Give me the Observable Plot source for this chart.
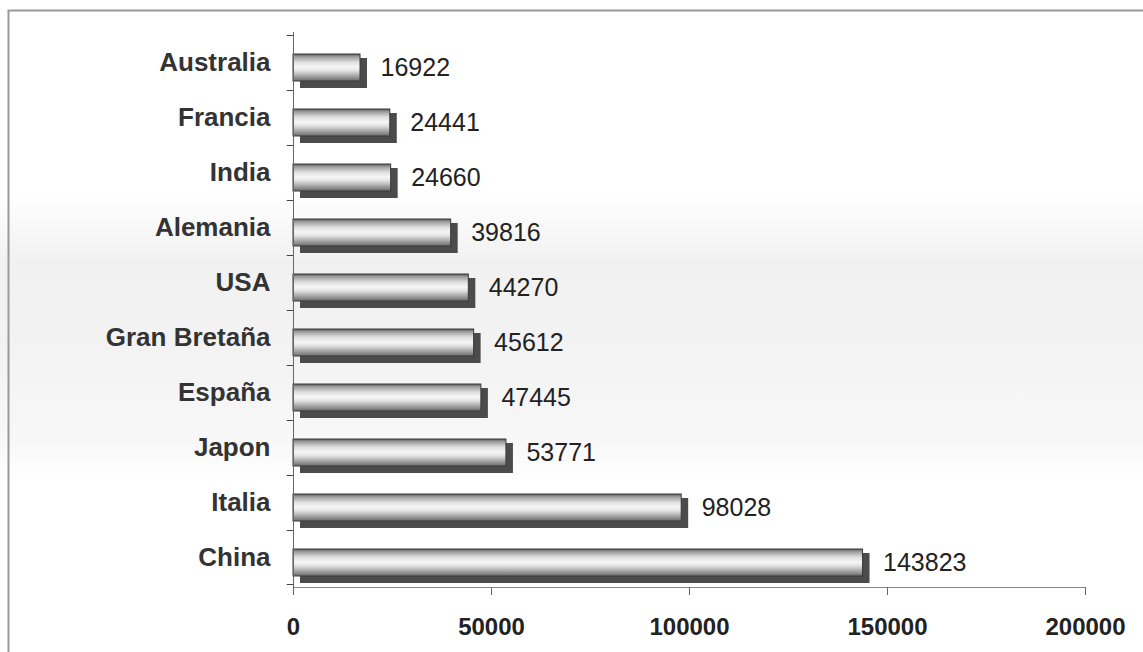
<!DOCTYPE html>
<html>
<head>
<meta charset="utf-8">
<script src="https://cdn.jsdelivr.net/npm/d3@7"></script>
<script src="https://cdn.jsdelivr.net/npm/@observablehq/plot@0.6"></script>
<style>
  html, body { margin: 0; padding: 0; background: #fff; }
  #chart { width: 1143px; height: 652px; overflow: hidden; }
</style>
</head>
<body>
<div id="chart"></div>
<script>
const countries = ["Australia", "Francia", "India", "Alemania", "USA", "Gran Bretaña", "España", "Japon", "Italia", "China"];
const values = [16922, 24441, 24660, 39816, 44270, 45612, 47445, 53771, 98028, 143823];
const xTicks = [0, 50000, 100000, 150000, 200000];

const data = countries.map((c, i) => ({country: c, value: values[i]}));

const W = 1143, H = 652;
const mTop = 32, mBottom = 65, mLeft = 293, mRight = 58;
const band = (H - mTop - mBottom) / countries.length;

const chart = Plot.plot({
  width: W,
  height: H,
  marginTop: mTop,
  marginBottom: mBottom,
  marginLeft: mLeft,
  marginRight: mRight,
  style: {fontFamily: "'Liberation Sans', Arial, sans-serif", background: "transparent", overflow: "visible"},
  x: {domain: [0, 200000]},
  y: {domain: countries, padding: 0},
  marks: [
    // shadow / depth of each bar
    Plot.barX(data, {x1: 0, x2: "value", y: "country", fill: "#4b4b4b", insetTop: 23, insetBottom: 2, dx: 7}),
    // main cylinder face
    Plot.barX(data, {x1: 0, x2: "value", y: "country", fill: "url(#barGrad)", stroke: "#3a3a3a", strokeWidth: 1, insetTop: 19, insetBottom: 9}),
    // value labels
    Plot.text(data, {x: "value", y: "country", text: d => String(d.value), dx: 20, dy: 5, textAnchor: "start", fontSize: 25, fill: "#222"}),
    // vertical axis line
    Plot.ruleX([0], {stroke: "#666"}),
    // horizontal axis line
    Plot.frame({anchor: "bottom", stroke: "#888"}),
    // y band boundary ticks
    Plot.barX(countries, {y: d => d, x1: -1600, x2: 0, fill: "#444", insetBottom: band - 1.5}),
    Plot.barX(countries.slice(-1), {y: d => d, x1: -1600, x2: 0, fill: "#444", insetTop: band - 1.5}),
    Plot.axisY({tickSize: 0, tickPadding: 23, fontSize: 26, fontWeight: "bold", fill: "#333", label: null}),
    Plot.axisX(xTicks, {tickSize: 8, tickPadding: 22, tickFormat: d => String(d), fontSize: 24, fontWeight: "bold", fill: "#222", stroke: "#666", label: null})
  ]
});

const svg = d3.select(chart);
const defs = svg.insert("defs", ":first-child");
const g = defs.append("linearGradient").attr("id", "barGrad").attr("x1", 0).attr("y1", 0).attr("x2", 0).attr("y2", 1);
[[0, "#5a5a5a"], [0.1, "#9c9c9c"], [0.3, "#dedede"], [0.48, "#f6f6f6"], [0.62, "#e2e2e2"], [0.82, "#a4a4a4"], [1, "#6a6a6a"]]
  .forEach(([o, c]) => g.append("stop").attr("offset", o).attr("stop-color", c));
const bg = defs.append("linearGradient").attr("id", "bgGrad").attr("x1", 0).attr("y1", 0).attr("x2", 0).attr("y2", 1);
[[0, "#ffffff"], [0.3, "#ffffff"], [0.4, "#f1f1f1"], [0.55, "#f3f3f3"], [0.68, "#f8f8f8"], [0.74, "#ffffff"], [1, "#ffffff"]]
  .forEach(([o, c]) => bg.append("stop").attr("offset", o).attr("stop-color", c));
svg.insert("rect", "defs + *").attr("x", 0).attr("y", 0).attr("width", W).attr("height", H).attr("fill", "url(#bgGrad)");
svg.append("rect").attr("x", 8.5).attr("y", 10.5).attr("width", W + 20).attr("height", H + 20)
  .attr("fill", "none").attr("stroke", "#9a9a9a").attr("stroke-width", 2);

document.getElementById("chart").appendChild(chart);
</script>
</body>
</html>
